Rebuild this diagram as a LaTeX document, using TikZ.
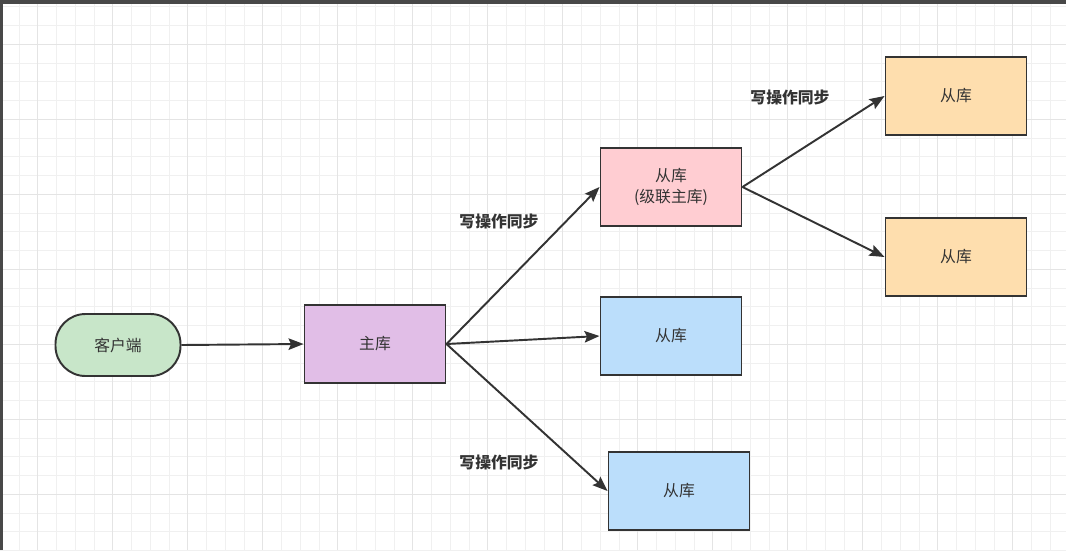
\documentclass[tikz,border=0pt]{standalone}
\usepackage{fontspec}
\setmainfont{Noto Sans CJK SC}
\usepackage{xcolor}
\definecolor{dbink}{RGB}{51,51,51}
\definecolor{dbgreen}{RGB}{200,230,201}
\definecolor{dbpurple}{RGB}{225,190,231}
\definecolor{dbpink}{RGB}{255,205,210}
\definecolor{dbblue}{RGB}{187,222,251}
\definecolor{dborange}{RGB}{254,222,174}
\definecolor{gridminor}{RGB}{240,240,240}
\definecolor{gridmajor}{RGB}{228,228,228}
\definecolor{shotbar}{RGB}{72,72,72}
\usetikzlibrary{positioning,arrows.meta}
\tikzset{
  dbbox/.style  ={rectangle,draw=dbink,line width=1.1pt,align=center,text=dbink,
                  minimum width=28.2mm,minimum height=15.6mm,font=\fontsize{9}{12}\selectfont},
  client/.style ={dbbox,fill=dbgreen,rounded corners=6mm,minimum width=25mm,minimum height=12.4mm},
  master/.style ={dbbox,fill=dbpurple},
  cascade/.style={dbbox,fill=dbpink},
  slave/.style  ={dbbox,fill=dbblue},
  leaf/.style   ={dbbox,fill=dborange},
  sync/.style   ={-{Stealth[length=3mm,width=2.3mm,inset=0.5mm]},line width=1.1pt,draw=dbink},
  synclabel/.style={text=dbink,font=\fontsize{9}{11}\selectfont\bfseries},
}

\begin{document}
\begin{tikzpicture}[x=0.2mm,y=-0.2mm]
  \useasboundingbox (0,0) rectangle (1066,550);
  \fill[white] (0,0) rectangle (1066,550);
  % grid
  \foreach \i in {0,...,56}{
    \draw[gridminor,line width=0.5pt] ({0.2+18.75*\i},0) -- ++(0,550);
  }
  \foreach \i in {0,...,29}{
    \draw[gridminor,line width=0.5pt] (0,{6.8+18.75*\i}) -- ++(1066,0);
  }
  \foreach \i in {0,...,14}{
    \draw[gridmajor,line width=0.6pt] ({37.7+75*\i},0) -- ++(0,550);
  }
  \foreach \i in {0,...,7}{
    \draw[gridmajor,line width=0.6pt] (0,{44.3+75*\i}) -- ++(1066,0);
  }
  \fill[shotbar] (0,0) rectangle (1066,4);
  \fill[shotbar] (0,0) rectangle (3,550);

  \node[client]  (cli)  at (118,345) {客户端};
  \node[master]  (mst)  at (375,344) {主库};
  \node[cascade] (casc) at (671,187) {从库\\(级联主库)};
  \node[slave]   (sl1)  at (671,336) {从库};
  \node[slave]   (sl2)  at (679,491) {从库};
  \node[leaf]    (lf1)  at (956,96)  {从库};
  \node[leaf]    (lf2)  at (956,257) {从库};

  \draw[sync] (cli.east) -- (mst.west);
  \draw[sync] (mst.east) -- (casc.west);
  \draw[sync] (mst.east) -- (sl1.west);
  \draw[sync] (mst.east) -- (sl2.west);
  \draw[sync] (casc.east) -- (lf1.west);
  \draw[sync] (casc.east) -- (lf2.west);

  \node[synclabel] (lbup)  at (499,221) {写操作同步};
  \node[synclabel] (lbtop) at (790,97)  {写操作同步};
  \node[synclabel] (lbdn)  at (499,462) {写操作同步};
\end{tikzpicture}
\end{document}
